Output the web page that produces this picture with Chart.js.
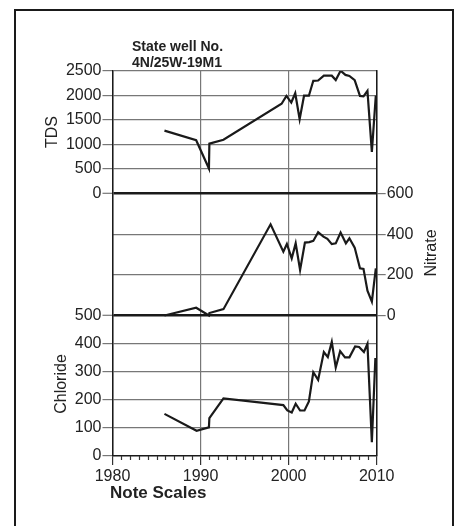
<!DOCTYPE html>
<html>
<head>
<meta charset="utf-8">
<script src="https://cdn.jsdelivr.net/npm/chart.js@4.4.1/dist/chart.umd.min.js"></script>
<style>
html, body { margin: 0; background: #fff; overflow: hidden; }
#frame { position: absolute; left: 14px; top: 9px; width: 436px; height: 580px; border: 2px solid #1a1a1a; }
canvas { position: absolute; left: 0; top: 0; }
</style>
</head>
<body>
<div id="frame"></div>
<canvas id="wellChart" width="456" height="526"></canvas>
<script>
// TDS (top panel, left axis)
const tdsYears = [1985.9, 1989.5, 1990.95, 1991.0, 1992.6, 1999.2, 1999.75, 2000.3, 2000.75, 2001.25, 2001.75, 2002.3, 2002.8, 2003.35, 2004.0, 2004.9, 2005.35, 2005.9, 2006.45, 2006.9, 2007.5, 2008.1, 2008.5, 2008.95, 2009.45, 2009.9];
const tdsValues = [1280, 1085, 505, 1015, 1095, 1830, 1990, 1855, 2045, 1515, 1995, 1995, 2300, 2305, 2405, 2405, 2315, 2505, 2420, 2400, 2315, 1990, 1980, 2095, 845, 1995];

// Nitrate (middle panel, right axis)
const nitrateYears = [1985.9, 1989.5, 1990.95, 1991.0, 1992.6, 1997.95, 1999.4, 1999.8, 2000.35, 2000.8, 2001.3, 2001.85, 2002.35, 2002.8, 2003.35, 2003.95, 2004.4, 2004.9, 2005.35, 2005.9, 2006.5, 2006.9, 2007.5, 2008.1, 2008.5, 2008.95, 2009.45, 2009.9];
const nitrateValues = [0, 38, 0, 12, 31, 450, 315, 353, 282, 356, 225, 360, 362, 368, 411, 389, 378, 352, 356, 409, 356, 381, 335, 233, 230, 122, 68, 233];

// Chloride (bottom panel, left axis)
const chlorideYears = [1985.9, 1989.55, 1990.95, 1991.0, 1992.6, 1999.4, 1999.85, 2000.35, 2000.8, 2001.3, 2001.8, 2002.3, 2002.8, 2003.35, 2004.0, 2004.45, 2004.9, 2005.35, 2005.85, 2006.4, 2006.9, 2007.55, 2008.0, 2008.55, 2008.95, 2009.45, 2009.85];
const chlorideValues = [150, 90, 102, 135, 205, 181, 162, 155, 186, 162, 162, 194, 298, 271, 370, 352, 406, 315, 373, 351, 351, 390, 388, 370, 399, 49, 349];

const titleLines = ['State well No.', '4N/25W-19M1'];
const noteText = 'Note Scales';

const FONT = 'Liberation Sans, Arial, sans-serif';
const GRID = '#777';
const INK = '#1a1a1a';

function pts(xs, ys) {
    return xs.map(function(x, i) { return { x: x, y: ys[i] }; });
}

function lineSet(xs, ys, axis) {
    return {
        data: pts(xs, ys),
        yAxisID: axis,
        borderColor: INK,
        borderWidth: 2.2,
        borderJoinStyle: 'miter',
        pointRadius: 0,
        tension: 0
    };
}

// titles, minor year ticks
const extras = {
    id: 'extras',
    afterDraw: function(chart) {
        const ctx = chart.ctx;
        const xs = chart.scales.x;
        const bottom = chart.chartArea.bottom;
        ctx.save();
        ctx.strokeStyle = '#333';
        ctx.lineWidth = 1.2;
        for (let yr = 1981; yr < 2010; yr++) {
            if (yr % 10 === 0) continue;
            const px = Math.round(xs.getPixelForValue(yr)) + 0.5;
            ctx.beginPath();
            ctx.moveTo(px, bottom);
            ctx.lineTo(px, bottom + 4);
            ctx.stroke();
        }

        ctx.fillStyle = '#222';
        ctx.textBaseline = 'middle';
        ctx.textAlign = 'left';
        ctx.font = 'bold 14px ' + FONT;
        ctx.fillText(titleLines[0], 132, 47);
        ctx.fillText(titleLines[1], 132, 63);
        ctx.font = 'bold 17px ' + FONT;
        ctx.fillText(noteText, 110, 493);

        ctx.font = '16px ' + FONT;
        ctx.textAlign = 'center';
        const axisTitles = [['TDS', 53, 132], ['Chloride', 62, 384], ['Nitrate', 432, 253]];
        axisTitles.forEach(function(t) {
            ctx.save();
            ctx.translate(t[1], t[2]);
            ctx.rotate(-Math.PI / 2);
            ctx.fillText(t[0], 0, 0);
            ctx.restore();
        });
        ctx.restore();
    }
};

const ctx = document.getElementById('wellChart').getContext('2d');
new Chart(ctx, {
    type: 'line',
    data: {
        datasets: [
            lineSet(tdsYears, tdsValues, 'yT'),
            lineSet(nitrateYears, nitrateValues, 'yN'),
            lineSet(chlorideYears, chlorideValues, 'yC')
        ]
    },
    options: {
        responsive: false,
        animation: false,
        devicePixelRatio: 1,
        layout: { padding: { top: 71, bottom: 30, left: 0, right: 0 } },
        plugins: {
            legend: { display: false },
            tooltip: { enabled: false }
        },
        scales: {
            x: {
                type: 'linear',
                min: 1980,
                max: 2010,
                ticks: {
                    stepSize: 10,
                    padding: 2,
                    color: '#222',
                    font: { family: FONT, size: 16 },
                    callback: function(v) { return String(v); }
                },
                grid: { color: GRID, lineWidth: 1.2, tickLength: 9, tickColor: '#333' },
                border: { color: INK, width: 1.5 },
                afterFit: function(s) { s.height = 40; }
            },
            // stacked left axes: listed bottom panel first
            yC: {
                position: 'left',
                stack: 'left',
                stackWeight: 140.5,
                min: 0,
                max: 500,
                ticks: {
                    stepSize: 100,
                    padding: 1,
                    autoSkip: false,
                    color: '#222',
                    font: { family: FONT, size: 16 },
                    callback: function(v) { return String(v); }
                },
                grid: {
                    tickLength: 10,
                    color: function(c) { return c.tick.value === 500 ? INK : (c.tick.value === 0 ? 'transparent' : GRID); },
                    lineWidth: function(c) { return c.tick.value === 500 ? 2.6 : 1.2; },
                    tickColor: GRID,
                    tickWidth: 1.2
                },
                border: { color: INK, width: 1.5 },
                afterFit: function(s) { s.width = 112.5; }
            },
            yT: {
                position: 'left',
                stack: 'left',
                stackWeight: 244.5,
                min: -2500,
                max: 2500,
                ticks: {
                    stepSize: 500,
                    padding: 1,
                    autoSkip: false,
                    color: '#222',
                    font: { family: FONT, size: 16 },
                    callback: function(v) { return v >= 0 ? String(v) : ''; }
                },
                grid: {
                    tickLength: 10,
                    color: function(c) { return c.tick.value < 0 ? 'transparent' : (c.tick.value === 0 ? INK : GRID); },
                    lineWidth: function(c) { return c.tick.value === 0 ? 2.6 : 1.2; },
                    tickColor: function(c) { return c.tick.value < 0 ? 'transparent' : GRID; },
                    tickWidth: 1.2
                },
                border: { color: INK, width: 1.5 },
                afterFit: function(s) { s.width = 112.5; }
            },
            yN: {
                position: 'right',
                min: -694,
                max: 1207,
                ticks: {
                    stepSize: 200,
                    padding: 1,
                    autoSkip: false,
                    color: '#222',
                    font: { family: FONT, size: 16 },
                    callback: function(v) { return (v >= 0 && v <= 600) ? String(v) : ''; }
                },
                grid: {
                    tickLength: 9,
                    color: function(c) { return (c.tick.value === 200 || c.tick.value === 400) ? GRID : 'transparent'; },
                    lineWidth: 1.2,
                    tickColor: function(c) { return (c.tick.value >= 0 && c.tick.value <= 600) ? GRID : 'transparent'; },
                    tickWidth: 1.2
                },
                border: { color: INK, width: 1.5 },
                afterFit: function(s) { s.width = 79.3; }
            }
        }
    },
    plugins: [extras]
});
</script>
</body>
</html>
